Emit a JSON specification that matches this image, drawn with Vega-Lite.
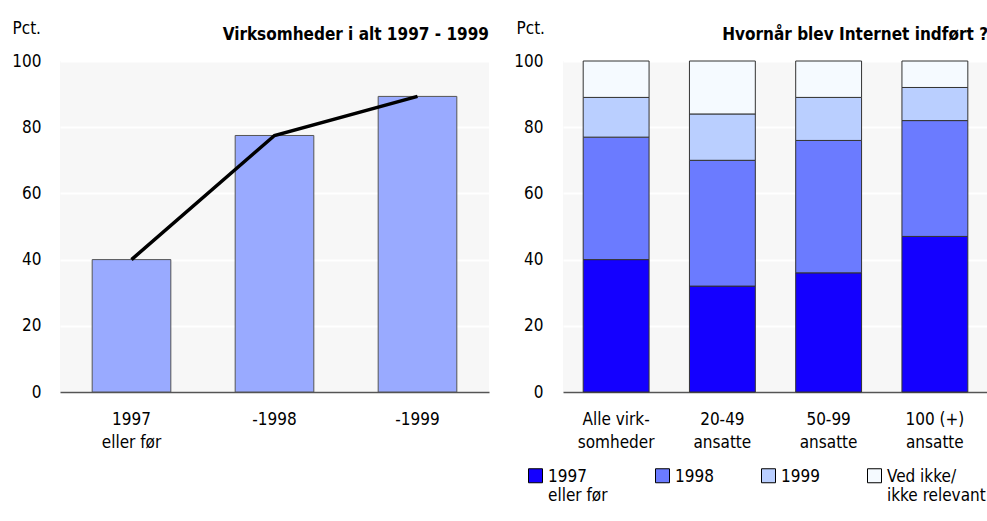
{
  "$schema": "https://vega.github.io/schema/vega-lite/v6.json",
  "background": "white",
  "padding": {"left": 11, "top": 19, "right": 0, "bottom": 0},
  "spacing": 74,
  "bounds": "flush",
  "config": {
    "font": "Liberation Sans Narrow, Arial Narrow, DejaVu Sans Condensed, Liberation Sans, sans-serif",
    "view": {"fill": "#f7f7f7", "stroke": null},
    "axis": {
      "labelFont": "Liberation Sans Narrow, Arial Narrow, DejaVu Sans Condensed, Liberation Sans, sans-serif",
      "labelFontSize": 17,
      "labelColor": "black",
      "titleFont": "Liberation Sans Narrow, Arial Narrow, DejaVu Sans Condensed, Liberation Sans, sans-serif",
      "titleFontSize": 17,
      "titleFontWeight": "normal",
      "titleColor": "black",
      "gridColor": "white",
      "gridWidth": 2
    },
    "title": {"font": "Liberation Sans Narrow, Arial Narrow, DejaVu Sans Condensed, Liberation Sans, sans-serif", "fontSize": 17, "fontWeight": "bold", "color": "black", "anchor": "end", "frame": "group", "baseline": "alphabetic", "offset": -25},
    "legend": {"labelFont": "Liberation Sans Narrow, Arial Narrow, DejaVu Sans Condensed, Liberation Sans, sans-serif", "labelFontSize": 17, "labelColor": "black"}
  },
  "hconcat": [
    {
      "width": 429,
      "height": 331,
      "title": {"text": "Virksomheder i alt 1997 - 1999"},
      "data": {"values": [
        {"year": "1997|eller før", "pct": 40},
        {"year": "-1998", "pct": 77.5},
        {"year": "-1999", "pct": 89.3}
      ]},
      "encoding": {
        "x": {"field": "year", "type": "nominal", "sort": null,
          "scale": {"paddingInner": 0.45, "paddingOuter": 0.225},
          "axis": {"title": null, "labelAngle": 0, "labelExpr": "split(datum.value,'|')", "domain": true, "domainColor": "#555", "domainWidth": 1.5, "ticks": false, "grid": false, "labelPadding": 19, "labelLineHeight": 23}},
        "y": {"field": "pct", "type": "quantitative", "scale": {"domain": [0, 100]},
          "axis": {"values": [0, 20, 40, 60, 80, 100], "title": "Pct.", "titleAngle": 0, "titleAlign": "left", "titleBaseline": "alphabetic", "titleX": -48, "titleY": -28, "domain": false, "ticks": false, "labelPadding": 19}}
      },
      "layer": [
        {"mark": {"type": "bar", "fill": "#99aaff", "stroke": "#555", "strokeWidth": 1}},
        {"mark": {"type": "line", "color": "black", "strokeWidth": 3.5}}
      ]
    },
    {
      "width": 425,
      "height": 331,
      "title": {"text": "Hvornår blev Internet indført ?"},
      "data": {"values": [
        {"grp": "Alle virk-|somheder", "aar": "1997|eller før", "pct": 40},
        {"grp": "Alle virk-|somheder", "aar": "1998|", "pct": 37},
        {"grp": "Alle virk-|somheder", "aar": "1999|", "pct": 12},
        {"grp": "Alle virk-|somheder", "aar": "Ved ikke/|ikke relevant", "pct": 11},
        {"grp": "20-49|ansatte", "aar": "1997|eller før", "pct": 32},
        {"grp": "20-49|ansatte", "aar": "1998|", "pct": 38},
        {"grp": "20-49|ansatte", "aar": "1999|", "pct": 14},
        {"grp": "20-49|ansatte", "aar": "Ved ikke/|ikke relevant", "pct": 16},
        {"grp": "50-99|ansatte", "aar": "1997|eller før", "pct": 36},
        {"grp": "50-99|ansatte", "aar": "1998|", "pct": 40},
        {"grp": "50-99|ansatte", "aar": "1999|", "pct": 13},
        {"grp": "50-99|ansatte", "aar": "Ved ikke/|ikke relevant", "pct": 11},
        {"grp": "100 (+)|ansatte", "aar": "1997|eller før", "pct": 47},
        {"grp": "100 (+)|ansatte", "aar": "1998|", "pct": 35},
        {"grp": "100 (+)|ansatte", "aar": "1999|", "pct": 10},
        {"grp": "100 (+)|ansatte", "aar": "Ved ikke/|ikke relevant", "pct": 8}
      ]},
      "mark": {"type": "bar", "stroke": "#333", "strokeWidth": 1},
      "encoding": {
        "x": {"field": "grp", "type": "nominal", "sort": null,
          "scale": {"paddingInner": 0.38, "paddingOuter": 0.19},
          "axis": {"title": null, "labelAngle": 0, "labelExpr": "split(datum.value,'|')", "domain": true, "domainColor": "#555", "domainWidth": 1.5, "ticks": false, "grid": false, "labelPadding": 19, "labelLineHeight": 23}},
        "y": {"field": "pct", "type": "quantitative", "stack": "zero", "scale": {"domain": [0, 100]},
          "axis": {"values": [0, 20, 40, 60, 80, 100], "title": "Pct.", "titleAngle": 0, "titleAlign": "left", "titleBaseline": "alphabetic", "titleX": -47, "titleY": -28, "domain": false, "ticks": false, "labelPadding": 20}},
        "color": {"field": "aar", "type": "nominal",
          "sort": ["1997|eller før", "1998|", "1999|", "Ved ikke/|ikke relevant"],
          "scale": {"domain": ["1997|eller før", "1998|", "1999|", "Ved ikke/|ikke relevant"], "range": ["#1400ff", "#6b7bff", "#bacfff", "#f5faff"]},
          "legend": {"title": null, "orient": "none", "legendX": 467, "legendY": 406, "direction": "horizontal", "columns": 4, "columnPadding": 45, "padding": 0,
            "symbolType": "square", "symbolSize": 196, "symbolStrokeColor": "black", "symbolStrokeWidth": 1, "symbolOpacity": 1,
            "labelExpr": "split(datum.value,'|')", "labelBaseline": "alphabetic", "labelOffset": 4, "labelLineHeight": 22,
            "encode": {"labels": {"update": {"dy": {"value": 6}}}}}},
        "order": {"field": "aar", "sort": "ascending"}
      }
    }
  ]
}
